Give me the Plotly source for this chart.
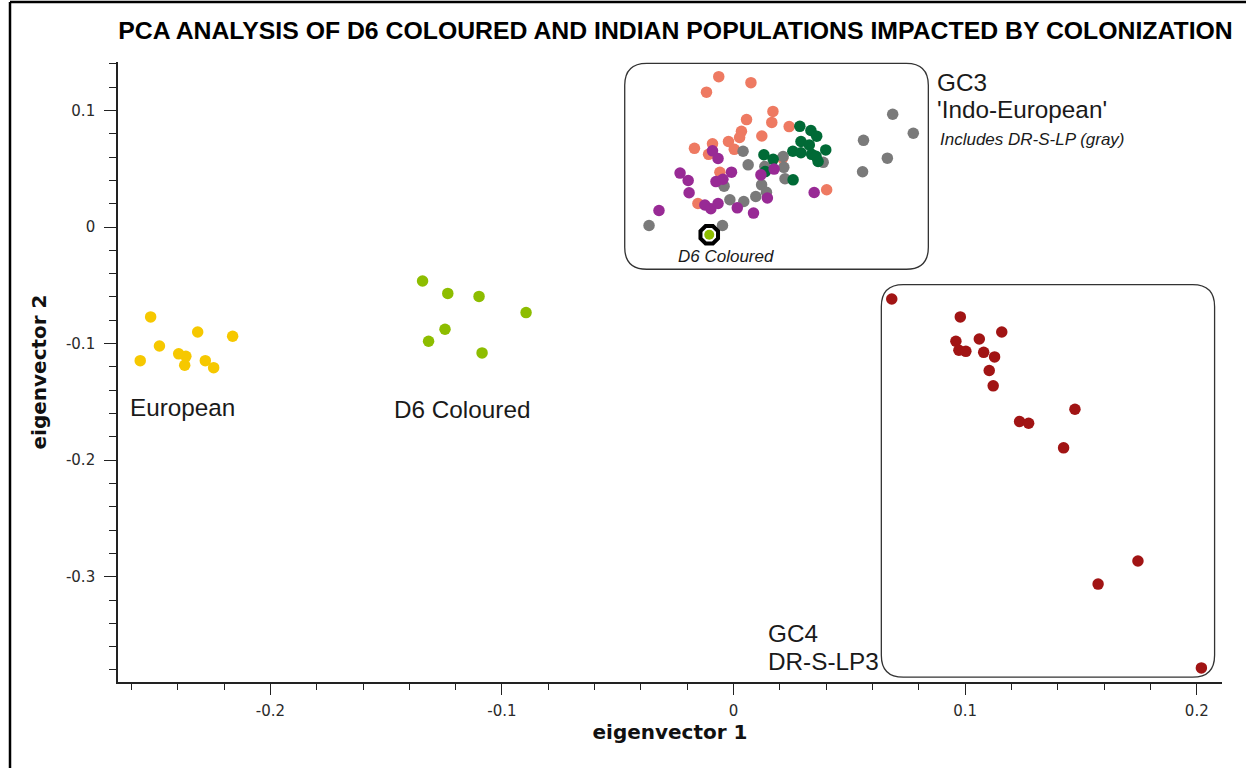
import plotly.graph_objects as go

# ---------------- data (eigenvector 1, eigenvector 2) ----------------
european_x = [-0.2517, -0.2562, -0.2479, -0.2396, -0.2365, -0.2370, -0.2314, -0.2281, -0.2245, -0.2163]
european_y = [-0.0771, -0.1146, -0.1020, -0.1088, -0.1109, -0.1186, -0.0900, -0.1146, -0.1206, -0.0937]

d6_x = [-0.1343, -0.1234, -0.1099, -0.0896, -0.1246, -0.1317, -0.1086]
d6_y = [-0.0463, -0.0569, -0.0595, -0.0734, -0.0877, -0.0980, -0.1080]

d6_highlight_x = [-0.0105]
d6_highlight_y = [-0.0066]

gc4_x = [0.0683, 0.0979, 0.1158, 0.1061, 0.0960, 0.0973, 0.1003, 0.1080, 0.1127,
         0.1104, 0.1121, 0.1474, 0.1235, 0.1274, 0.1425, 0.1746, 0.1574, 0.2020]
gc4_y = [-0.0617, -0.0771, -0.0900, -0.0960, -0.0980, -0.1057, -0.1066, -0.1075, -0.1114,
         -0.1231, -0.1362, -0.1563, -0.1668, -0.1683, -0.1894, -0.2865, -0.3063, -0.3782]

salmon_x = [-0.0064, 0.0075, -0.0117, 0.0170, 0.0056, 0.0165, 0.0240, 0.0034, 0.0026, 0.0122,
            -0.0091, -0.0022, -0.0169, 0.0003, -0.0108, 0.0212, -0.0059, 0.0402, -0.0154]
salmon_y = [0.1290, 0.1239, 0.1157, 0.0992, 0.0922, 0.0898, 0.0862, 0.0821, 0.0768, 0.0781,
            0.0714, 0.0734, 0.0675, 0.0667, 0.0624, 0.0591, 0.0470, 0.0320, 0.0202]

gray_x = [0.0687, 0.0776, 0.0561, 0.0664, 0.0557, 0.0387, 0.0041, 0.0063, 0.0214, 0.0217,
          0.0222, 0.0135, 0.0121, 0.0142, 0.0096, 0.0044, -0.0016, -0.0041, -0.0365, -0.0048]
gray_y = [0.0968, 0.0805, 0.0744, 0.0591, 0.0474, 0.0555, 0.0650, 0.0534, 0.0605, 0.0512,
          0.0414, 0.0519, 0.0362, 0.0298, 0.0262, 0.0219, 0.0234, 0.0351, 0.0013, 0.0013]

green_x = [0.0286, 0.0334, 0.0359, 0.0291, 0.0327, 0.0398, 0.0256, 0.0291, 0.0337, 0.0365,
           0.0356, 0.0131, 0.0171, 0.0257, 0.0137]
green_y = [0.0864, 0.0828, 0.0780, 0.0734, 0.0705, 0.0662, 0.0650, 0.0637, 0.0624, 0.0562,
           0.0607, 0.0620, 0.0581, 0.0405, 0.0476]

purple_x = [-0.0091, -0.0067, -0.0231, -0.0196, -0.0192, -0.0009, -0.0076, -0.0046, 0.0118,
            0.0175, 0.0146, -0.0124, -0.0098, -0.0067, 0.0016, 0.0086, 0.0348, -0.0322]
purple_y = [0.0654, 0.0588, 0.0463, 0.0399, 0.0294, 0.0471, 0.0390, 0.0410, 0.0448,
            0.0497, 0.0249, 0.0189, 0.0157, 0.0202, 0.0165, 0.0120, 0.0296, 0.0142]

x_tick_vals = [-0.2, -0.1, 0, 0.1, 0.2]
x_tick_text = ["-0.2", "-0.1", "0", "0.1", "0.2"]
y_tick_vals = [0.1, 0, -0.1, -0.2, -0.3]
y_tick_text = ["0.1", "0", "-0.1", "-0.2", "-0.3"]

# ---------------- figure ----------------
X_RANGE = [-0.2658, 0.2109]
Y_RANGE = [-0.3903, 0.1416]
W, H = 1246, 768
ML, MR, MT, MB = 118, 24, 62, 86

fig = go.Figure()


def add_points(xs, ys, color, name, size=11.5):
    fig.add_trace(go.Scatter(x=xs, y=ys, mode="markers", name=name,
                             marker=dict(color=color, size=size, line=dict(width=0))))


add_points(european_x, european_y, "#f6c800", "European")
add_points(d6_x, d6_y, "#8dbd00", "D6 Coloured")
add_points(gc4_x, gc4_y, "#a11414", "GC4 DR-S-LP3")
add_points(salmon_x, salmon_y, "#ee7a62", "GC3 salmon")
add_points(gray_x, gray_y, "#7a7a7a", "DR-S-LP (gray)")
add_points(green_x, green_y, "#006a36", "GC3 green")
add_points(purple_x, purple_y, "#982a95", "GC3 purple")
fig.add_trace(go.Scatter(x=d6_highlight_x, y=d6_highlight_y, mode="markers", name="D6 ring",
                         marker=dict(symbol="octagon", size=19, color="white",
                                     line=dict(color="black", width=4))))
add_points(d6_highlight_x, d6_highlight_y, "#8dbd00", "D6 Coloured (GC3)", size=10)


def rounded_box(x0, y0, x1, y1, r_px=22):
    rx = r_px * (X_RANGE[1] - X_RANGE[0]) / (W - ML - MR)
    ry = r_px * (Y_RANGE[1] - Y_RANGE[0]) / (H - MT - MB)
    p = (f"M {x0 + rx},{y1} L {x1 - rx},{y1} Q {x1},{y1} {x1},{y1 - ry} "
         f"L {x1},{y0 + ry} Q {x1},{y0} {x1 - rx},{y0} L {x0 + rx},{y0} "
         f"Q {x0},{y0} {x0},{y0 + ry} L {x0},{y1 - ry} Q {x0},{y1} {x0 + rx},{y1} Z")
    return dict(type="path", path=p, xref="x", yref="y",
                line=dict(color="#333333", width=1.3), layer="below")


shapes = [
    rounded_box(-0.0470, -0.0362, 0.0841, 0.1405),
    rounded_box(0.0638, -0.3862, 0.2077, -0.0494),
]
# outer screenshot frame (left and top edges)
fx = (10 - ML) / (W - ML - MR)
fy_top = (H - MB - 2) / (H - MT - MB)
fy_bot = (H - MB - H) / (H - MT - MB)
fx_right = (W - ML) / (W - ML - MR)
shapes.append(dict(type="line", xref="paper", yref="paper", x0=fx, x1=fx, y0=fy_bot, y1=fy_top,
                   line=dict(color="black", width=2.5)))
shapes.append(dict(type="line", xref="paper", yref="paper", x0=fx, x1=fx_right, y0=fy_top, y1=fy_top,
                   line=dict(color="black", width=2.5)))

lab_font = dict(family="Liberation Sans, Arial, sans-serif", size=24.3, color="#1a1a1a")
small_it = dict(family="Liberation Sans, Arial, sans-serif", size=17, color="#1a1a1a")
annotations = [
    dict(x=-0.2616, y=-0.1548, text="European", font=lab_font),
    dict(x=-0.1476, y=-0.1566, text="D6 Coloured", font=lab_font),
    dict(x=0.0870, y=0.1237, text="GC3", font=lab_font),
    dict(x=0.0870, y=0.1005, text="'Indo-European'", font=lab_font),
    dict(x=0.0883, y=0.0748, text="<i>Includes DR-S-LP (gray)</i>", font=small_it),
    dict(x=-0.0249, y=-0.0254, text="<i>D6 Coloured</i>", font=small_it),
    dict(x=0.0140, y=-0.3485, text="GC4", font=lab_font),
    dict(x=0.0140, y=-0.3725, text="DR-S-LP3", font=lab_font),
]
for a in annotations:
    a.update(xref="x", yref="y", xanchor="left", yanchor="middle", showarrow=False)

tick_font = dict(family="DejaVu Sans, Verdana, sans-serif", size=15, color="#2a2a2a")
axis_title_font = dict(family="DejaVu Sans, Verdana, sans-serif", size=20, color="#111111")

fig.update_layout(
    width=W, height=H,
    margin=dict(l=ML, r=MR, t=MT, b=MB),
    paper_bgcolor="white", plot_bgcolor="white",
    showlegend=False,
    title=dict(text="<b>PCA ANALYSIS OF D6 COLOURED AND INDIAN POPULATIONS IMPACTED BY COLONIZATION</b>",
               font=dict(family="Liberation Sans, Arial, sans-serif", size=24.8, color="black"),
               x=(675.5 - ML) / (W - ML - MR), xref="paper", xanchor="center",
               y=1 - 30 / H, yref="container", yanchor="middle"),
    shapes=shapes,
    annotations=annotations,
)

fig.update_xaxes(
    range=X_RANGE, showgrid=False, zeroline=False,
    showline=True, linecolor="#222222", linewidth=1.6,
    tickmode="array", tickvals=x_tick_vals, ticktext=x_tick_text,
    ticks="outside", ticklen=11, tickwidth=1.3, tickcolor="#222222",
    ticklabelstandoff=3,
    minor=dict(tickmode="linear", tick0=0, dtick=0.02, ticks="outside", ticklen=6,
               tickwidth=1.3, tickcolor="#222222", showgrid=False),
    tickfont=tick_font,
    title=dict(text="<b>eigenvector 1</b>", font=axis_title_font, standoff=5),
)
fig.update_yaxes(
    range=Y_RANGE, showgrid=False, zeroline=False,
    showline=True, linecolor="#222222", linewidth=1.6,
    tickmode="array", tickvals=y_tick_vals, ticktext=y_tick_text,
    ticks="outside", ticklen=12, tickwidth=1.3, tickcolor="#222222",
    ticklabelstandoff=6,
    minor=dict(tickmode="linear", tick0=0, dtick=0.02, ticks="outside", ticklen=7,
               tickwidth=1.3, tickcolor="#222222", showgrid=False),
    tickfont=tick_font,
    title=dict(text="<b>eigenvector 2</b>", font=axis_title_font, standoff=14),
)

fig.write_html("out.html", config={"displayModeBar": False},
               post_script="document.body.style.margin='0';")
